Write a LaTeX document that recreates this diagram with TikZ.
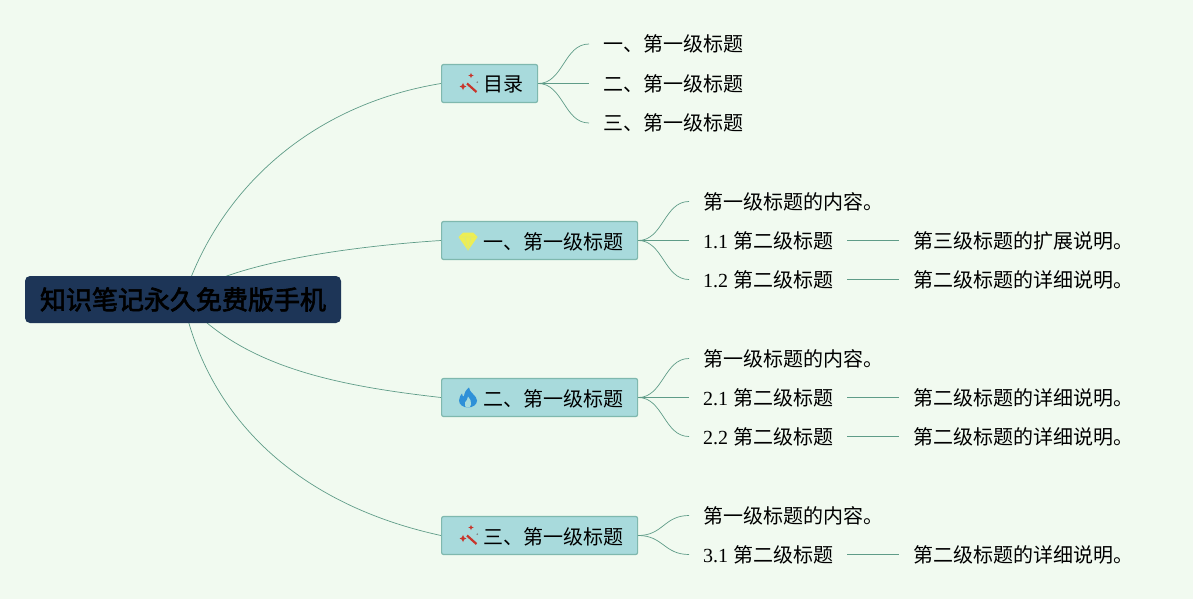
\documentclass[tikz,border=0pt]{standalone}
\usepackage{fontspec}
\setmainfont{Liberation Serif}
\newfontfamily\cjk{Noto Sans CJK SC}
\newfontfamily\cjkheavy{Noto Sans CJK SC}[FakeBold=2.6]
\usetikzlibrary{positioning,backgrounds}
\definecolor{pagebg}{HTML}{F1FAF0}
\definecolor{boxfill}{HTML}{A8DADC}
\definecolor{boxline}{HTML}{7FB8AE}
\definecolor{rootfill}{HTML}{1D3557}
\definecolor{linkcol}{HTML}{5F9C88}
\definecolor{wandred}{HTML}{C8352B}
\definecolor{gemyellow}{HTML}{EDEE55}
\definecolor{flameblue}{HTML}{2E90D8}
\tikzstyle{rootbox} = [rectangle, rounded corners=5pt, fill=rootfill, minimum width=316pt, minimum height=47pt, inner sep=0pt, font=\cjkheavy\fontsize{26}{30}\selectfont]
\tikzstyle{topic} = [rectangle, rounded corners=2pt, draw=boxline, line width=1.2pt, fill=boxfill, minimum height=38pt, inner xsep=14pt, inner ysep=0pt, text height=18.5pt, text depth=1.5pt, font=\cjk\fontsize{20}{24}\selectfont]
\tikzstyle{leaf} = [inner xsep=14pt, inner ysep=0pt, text height=18pt, text depth=2pt, font=\cjk\fontsize{20}{24}\selectfont]
\tikzstyle{link} = [draw=linkcol, line width=0.7pt]
\newcommand{\num}[1]{{\rmfamily #1}\hspace{5pt}}
\tikzset{
  wandicon/.pic={
    \draw [line width=2.2pt, wandred] (-1,0) -- (8.5,8.5);
    \fill [wandred] (-5,-0.6) -- (-4,1.8) -- (-1.6,3) -- (-4,4.2) -- (-5,6.6) -- (-6,4.2) -- (-8.4,3) -- (-6,1.8) -- cycle;
    \fill [wandred] (3,-10.6) -- (3.8,-8.8) -- (5.6,-8) -- (3.8,-7.2) -- (3,-5.4) -- (2.2,-7.2) -- (0.4,-8) -- (2.2,-8.8) -- cycle;
    \fill [black!50] (9.3,-1.3) circle (0.9pt);
  },
  gemicon/.pic={
    \fill [gemyellow] (-5,-8) -- (5,-8) -- (9.5,-3.5) -- (0,10) -- (-9.5,-3.5) -- cycle;
    \draw [boxfill!40!gemyellow, line width=0.4pt] (-9.5,-3.5) -- (9.5,-3.5) (-3,-3.5) -- (0,10) -- (3,-3.5);
  },
  flameicon/.pic={
    \fill [flameblue] (1,-10) .. controls (1,-5) and (9,-2) .. (9,3) .. controls (9,7) and (5,10) .. (0,10) .. controls (-5,10) and (-9,7) .. (-9,3) .. controls (-9,0) and (-7,-3) .. (-6,-4) .. controls (-6,-2) and (-5,-1) .. (-4,-1) .. controls (-4,-4) and (-2,-8) .. (1,-10) -- cycle;
    \fill [boxfill] (0,10) .. controls (-3,10) and (-4,7) .. (-3,5) .. controls (-2,3) and (0,2) .. (0,-1) .. controls (2,2) and (4,4) .. (3,7) .. controls (3,9) and (1,10) .. (0,10) -- cycle;
  }
}
\begin{document}
\begin{tikzpicture}[x=1pt,y=-1pt,node distance=52pt]
    \useasboundingbox (0,0) rectangle (1193,599);

    \node (root) [rootbox] at (183,299.5) {知识笔记永久免费版手机};

    \node (toc) [topic, anchor=west] at (441,83.5) {\hspace*{28pt}目录};
    \node (one) [topic, anchor=west] at (441,240.5) {\hspace*{28pt}一、第一级标题};
    \node (two) [topic, anchor=west] at (441,397.5) {\hspace*{28pt}二、第一级标题};
    \node (three) [topic, anchor=west] at (441,535.5) {\hspace*{28pt}三、第一级标题};

    \pic at ([xshift=27pt]toc.west) {wandicon};
    \pic at ([xshift=27pt]one.west) {gemicon};
    \pic at ([xshift=27pt]two.west) {flameicon};
    \pic at ([xshift=27pt]three.west) {wandicon};

    \node (tocA) [leaf, anchor=west] at (589,44) {一、第一级标题};
    \node (tocB) [leaf, anchor=west] at (589,83.5) {二、第一级标题};
    \node (tocC) [leaf, anchor=west] at (589,123) {三、第一级标题};

    \node (oneT) [leaf, anchor=west] at (689,201.5) {第一级标题的内容。};
    \node (oneA) [leaf, anchor=west] at (689,240.5) {\num{1.1}第二级标题};
    \node (oneB) [leaf, anchor=west] at (689,279.5) {\num{1.2}第二级标题};
    \node (oneAx) [leaf, right=of oneA] {第三级标题的扩展说明。};
    \node (oneBx) [leaf, right=of oneB] {第二级标题的详细说明。};

    \node (twoT) [leaf, anchor=west] at (689,358.5) {第一级标题的内容。};
    \node (twoA) [leaf, anchor=west] at (689,397.5) {\num{2.1}第二级标题};
    \node (twoB) [leaf, anchor=west] at (689,436.5) {\num{2.2}第二级标题};
    \node (twoAx) [leaf, right=of twoA] {第二级标题的详细说明。};
    \node (twoBx) [leaf, right=of twoB] {第二级标题的详细说明。};

    \node (threeT) [leaf, anchor=west] at (689,515.5) {第一级标题的内容。};
    \node (threeA) [leaf, anchor=west] at (689,554.5) {\num{3.1}第二级标题};
    \node (threeAx) [leaf, right=of threeA] {第二级标题的详细说明。};

    \begin{pgfonlayer}{background}
        \fill [pagebg] (0,0) rectangle (1193,599);
        \draw [link] (root.center) .. controls (218,190) and (310,105) .. (toc.west);
        \draw [link] (root.center) .. controls (218,266) and (340,247) .. (one.west);
        \draw [link] (root.center) .. controls (240,365) and (330,385) .. (two.west);
        \draw [link] (root.center) .. controls (208,420) and (300,505) .. (three.west);
    \end{pgfonlayer}

    \foreach \from/\to in {toc/tocA,toc/tocB,toc/tocC,one/oneT,one/oneA,one/oneB,two/twoT,two/twoA,two/twoB,three/threeT,three/threeA}
        \draw [link] (\from.east) .. controls +(25,0) and ([xshift=-25pt]\to.west) .. (\to.west);

    \draw [link] (oneA) -- (oneAx);
    \draw [link] (oneB) -- (oneBx);
    \draw [link] (twoA) -- (twoAx);
    \draw [link] (twoB) -- (twoBx);
    \draw [link] (threeA) -- (threeAx);
\end{tikzpicture}
\end{document}
